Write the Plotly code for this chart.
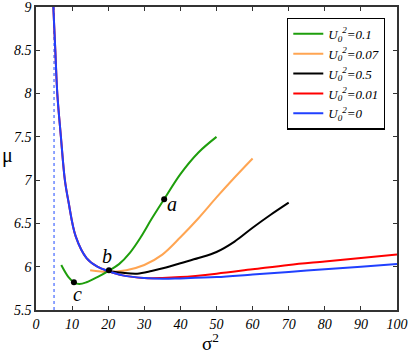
import plotly.graph_objects as go

# sigma^2 / mu values
x_blue = [4.8, 5.35, 5.9, 6.9, 8.0, 9.0, 11.0, 14.0, 17.0, 20, 24, 30, 35, 40, 50, 60, 70, 80, 90, 100]
y_blue = [9.0, 8.5, 8.0, 7.5, 7.0, 6.75, 6.35, 6.10, 6.00, 5.95, 5.90, 5.87, 5.86, 5.865, 5.88, 5.91, 5.94, 5.97, 6.00, 6.03]

x_red = [4.8, 5.35, 5.9, 6.9, 8.0, 9.0, 11.0, 14.0, 17.0, 20, 24, 30, 35, 40, 50, 60, 70, 80, 90, 100]
y_red = [9.0, 8.5, 8.0, 7.5, 7.0, 6.75, 6.35, 6.10, 6.00, 5.95, 5.90, 5.87, 5.87, 5.88, 5.92, 5.97, 6.02, 6.06, 6.10, 6.14]

x_black = [19, 24, 28, 32, 36, 40, 45, 50, 55, 60, 65, 70]
y_black = [5.96, 5.93, 5.92, 5.95, 5.99, 6.04, 6.10, 6.17, 6.29, 6.45, 6.60, 6.74]

x_orange = [15, 20, 25, 30, 35, 40, 45, 50, 55, 60]
y_orange = [5.96, 5.94, 5.96, 6.02, 6.14, 6.34, 6.56, 6.80, 7.03, 7.25]

x_green = [7, 9, 10.5, 12, 14, 17, 20, 23, 26, 29, 32, 35.5, 40, 45, 50]
y_green = [6.02, 5.88, 5.82, 5.80, 5.82, 5.88, 5.95, 6.03, 6.16, 6.34, 6.55, 6.78, 7.07, 7.32, 7.50]

pt_labels = ['a', 'b', 'c']
pt_x = [35.5, 20.2, 10.5]
pt_y = [6.78, 5.96, 5.82]

SERIF = 'Liberation Serif'

series = [
    ('0.1', x_green, y_green, '#1E9E0C'),
    ('0.07', x_orange, y_orange, '#FFA552'),
    ('0.5', x_black, y_black, '#000000'),
    ('0.01', x_red, y_red, '#FF0000'),
    ('0', x_blue, y_blue, '#2040FF'),
]

fig = go.Figure()

# dotted asymptote at sigma^2 = 5
fig.add_trace(go.Scatter(x=[5, 5], y=[5.5, 9], mode='lines', showlegend=False,
                         line=dict(color='#6A86FF', width=1.5, dash='dot')))

# draw red under blue, keep legend order
draw_order = [1, 2, 0, 3, 4]
for i in draw_order:
    name, xs, ys, col = series[i]
    fig.add_trace(go.Scatter(
        x=xs, y=ys, mode='lines', line=dict(color=col, width=2, shape='spline'),
        name=f'U<sub>0</sub><sup>2</sup>=' + name, legendrank=i + 1))

fig.add_trace(go.Scatter(x=pt_x, y=pt_y, mode='markers', showlegend=False,
                         marker=dict(color='black', size=6)))

label_pos = {'a': (37.8, 6.72), 'b': (19.7, 6.12), 'c': (11.6, 5.68)}
for lab in pt_labels:
    lx, ly = label_pos[lab]
    fig.add_annotation(x=lx, y=ly, text=lab, showarrow=False,
                       font=dict(family=SERIF, size=20, color='black', style='italic'))

# axis titles as paper annotations so the margins stay fixed
fig.add_annotation(xref='paper', yref='paper', x=-0.078, y=0.51, text='μ', showarrow=False,
                   xanchor='center', yanchor='middle',
                   font=dict(family=SERIF, size=20, color='black'))
fig.add_annotation(xref='paper', yref='paper', x=0.482, y=-0.107, text='σ<sup>2</sup>',
                   showarrow=False, xanchor='center', yanchor='middle',
                   font=dict(family=SERIF, size=19, color='black'))

axis_common = dict(showgrid=False, zeroline=False, ticks='inside', ticklen=4,
                   mirror='allticks', showline=True, linecolor='#333333', linewidth=1.5,
                   tickcolor='#333333', automargin=False, ticklabeloverflow='allow',
                   tickfont=dict(family=SERIF, size=14, color='black', style='italic'))

fig.update_xaxes(range=[0, 100], tickvals=list(range(0, 101, 10)), **axis_common)
fig.update_yaxes(range=[5.5, 9], tickvals=[5.5, 6, 6.5, 7, 7.5, 8, 8.5, 9],
                 ticktext=['5.5', '6', '6.5', '7', '7.5', '8', '8.5', '9'],
                 **axis_common)

fig.update_layout(
    width=408, height=354,
    margin=dict(l=36, r=11, t=7, b=44),
    paper_bgcolor='white', plot_bgcolor='white',
    legend=dict(x=0.967, y=0.965, xanchor='right', yanchor='top',
                bordercolor='black', borderwidth=1.2, bgcolor='white',
                font=dict(family=SERIF, size=13, color='black', style='italic'),
                tracegroupgap=0, itemwidth=30),
)

# the page body has a default 8px margin; drop it so the figure sits at 0,0
fig.write_html('out.html', config={'displayModeBar': False},
               post_script="document.body.style.margin='0';")
